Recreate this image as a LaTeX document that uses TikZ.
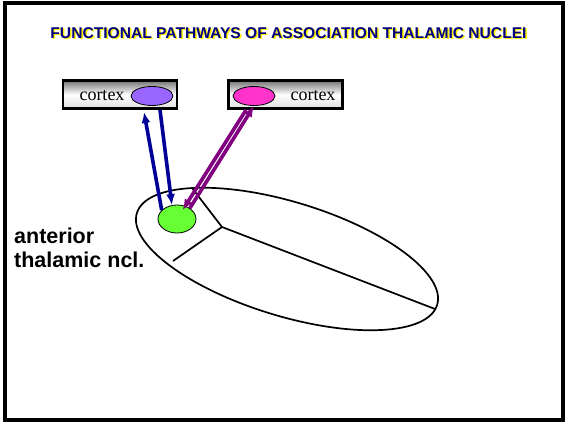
\documentclass[tikz,border=0pt]{standalone}
\usepackage{fontspec}
\newfontfamily\arialfont{Liberation Sans}
\newfontfamily\timesfont{Liberation Serif}
\usetikzlibrary{arrows.meta,shapes.geometric,positioning}
\definecolor{navyblue}{RGB}{0,0,153}
\definecolor{titleblue}{RGB}{0,0,128}
\definecolor{darkpurple}{RGB}{128,0,128}
\definecolor{lavender}{RGB}{153,102,255}
\definecolor{hotpink}{RGB}{255,51,204}
\definecolor{limegreen}{RGB}{102,255,51}

\begin{document}
\begin{tikzpicture}[x=1pt, y=-1pt, >={Latex[length=11pt,width=9pt]},
    cortexbox/.style={draw=black, line width=2.6pt, minimum width=114pt, minimum height=28pt, inner sep=0pt,
        top color=black!55, bottom color=black!12, middle color=white},
    spot/.style={ellipse, draw=black, line width=0.8pt, inner sep=0pt, minimum width=42pt, minimum height=19pt},
    bluepath/.style={->, navyblue, line width=3.6pt},
    purplepath/.style={->, darkpurple, line width=3.6pt},
    cortexfont/.style={font=\timesfont\fontsize{18}{18}\selectfont, inner sep=0pt}]
    \useasboundingbox (0,0) rectangle (566,423);

    % 1. Khung ngoai va tieu de
    \draw[line width=3.4pt] (5,3) rectangle (563,420);
    \node[text=yellow, font=\arialfont\bfseries\fontsize{15.6}{15.6}\selectfont] (titleshadow) at (290,34.5)
        {FUNCTIONAL PATHWAYS OF ASSOCIATION THALAMIC NUCLEI};
    \node[text=titleblue, font=\arialfont\bfseries\fontsize{15.6}{15.6}\selectfont] (title) at (288.5,33.5)
        {FUNCTIONAL PATHWAYS OF ASSOCIATION THALAMIC NUCLEI};

    % 2. Hai o vo nao (cortex)
    \node[cortexbox] (lbox) at (120,94.5) {};
    \node[cortexfont] (ltext) at (102,96) {cortex};
    \node[spot, fill=lavender] (lspot) at (152,96) {};

    \node[cortexbox] (rbox) at (285.5,94.5) {};
    \node[spot, fill=hotpink] (rspot) at (254,96) {};
    \node[cortexfont] (rtext) at (313,96) {cortex};

    % 3. Doi thi (ellipse lon) va cac vach chia
    \draw[line width=1.7pt, rotate around={-17:(287,259)}] (287,259) ellipse [x radius=157, y radius=57];
    \draw[line width=1.7pt] (192,188) -- (222,227) -- (435,309);
    \draw[line width=1.7pt] (222,227) -- (173,261);

    % 4. Nhan anterior va nhan xanh la
    \node[ellipse, draw=black, line width=0.8pt, fill=limegreen, minimum width=38pt, minimum height=28pt, inner sep=0pt] (ant) at (177,219) {};
    \node[font=\arialfont\bfseries\fontsize{21.5}{24}\selectfont, align=left, anchor=north west, inner sep=0pt]
        (antlabel) at (14,228) {anterior\\thalamic ncl.};

    % 5. Cac duong dan truyen
    \coordinate (lup) at (144,112);
    \coordinate (ldown) at (160,110);
    \coordinate (rdown) at (246,110);
    \draw[bluepath] (ant.150) -- (lup);
    \draw[bluepath] (ldown) -- (ant.110);
    \draw[purplepath, shorten >=-5pt] (rdown) -- (ant);
    \draw[purplepath] (ant.40) -- (rspot.south);

\end{tikzpicture}
\end{document}
